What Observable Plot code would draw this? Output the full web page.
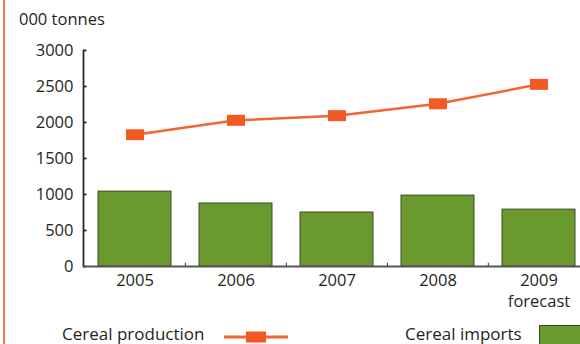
<!DOCTYPE html>
<html>
<head>
<meta charset="utf-8">
<script src="https://cdn.jsdelivr.net/npm/d3@7"></script>
<script src="https://cdn.jsdelivr.net/npm/@observablehq/plot@0.6"></script>
<style>
  html, body { margin: 0; padding: 0; background: #fff; }
  body { width: 580px; height: 344px; overflow: hidden; position: relative; font-family: "Open Sans", sans-serif; color: #231f20; }
  #border { position: absolute; left: 3px; top: 0; width: 2px; height: 344px; background: #f47b50; }
  #unit { position: absolute; left: 19px; top: 9px; font-size: 16.5px; line-height: 20px; }
  #chart { position: absolute; left: 0; top: 0; }
  #legend { position: absolute; left: 0; top: 310px; width: 580px; height: 34px; font-size: 17px; }
  .lg { position: absolute; top: 14px; line-height: 20px; white-space: nowrap; }
</style>
</head>
<body>
<div id="chart"></div>
<div id="border"></div>
<div id="unit">000 tonnes</div>
<div id="legend">
  <span class="lg" style="left:62px">Cereal production</span>
  <svg style="position:absolute;left:224px;top:21px" width="66" height="12">
    <line x1="0" y1="6" x2="64" y2="6" stroke="#f26430" stroke-width="3"></line>
    <rect x="22" y="0.5" width="20" height="11" fill="#f15a24"></rect>
  </svg>
  <span class="lg" style="left:405px">Cereal imports</span>
  <svg style="position:absolute;left:539px;top:15px" width="41" height="20">
    <rect x="0.5" y="0.5" width="42" height="22" fill="#6a9a2f" stroke="#3d4a2a" stroke-width="1"></rect>
  </svg>
</div>
<script>
const years = ["2005", "2006", "2007", "2008", "2009"];
const yearNotes = [{year: "2009", note: "forecast"}];
const production = [1830, 2030, 2095, 2260, 2530];
const imports = [1040, 875, 750, 985, 790];
const yTicks = [0, 500, 1000, 1500, 2000, 2500, 3000];

const data = years.map((y, i) => ({year: y, production: production[i], imports: imports[i]}));

const W = 580, H = 310, mL = 83, mT = 50, mB = H - 266;
const xRange = [mL, 589.5];
const frameW = xRange[1] - xRange[0];
const step = frameW / years.length;

const rectSymbol = { draw(ctx) { ctx.rect(-9, -5.5, 18, 11); } };

const plot = Plot.plot({
  width: W,
  height: H,
  marginLeft: mL,
  marginRight: 0,
  marginTop: mT,
  marginBottom: mB,
  style: { fontFamily: "Open Sans, sans-serif", fontSize: "16.5px", color: "#231f20", background: "transparent", overflow: "visible" },
  x: { domain: years, range: xRange, paddingInner: 0.28, paddingOuter: 0.14, label: null },
  y: { domain: [0, 3000], label: null },
  marks: [
    Plot.barY(data, { x: "year", y: "imports", fill: "#6a9a2f", stroke: "#3d4a2a", strokeWidth: 1 }),
    Plot.ruleY(yTicks, { y: d => d, stroke: "#2a2a2a", strokeWidth: 1.8, insetRight: frameW - 13 }),
    Plot.ruleX(years.slice(1), { x: d => d, y1: 0, y2: 45, dx: -step / 2, stroke: "#333", strokeWidth: 1 }),
    Plot.frame({ anchor: "left", stroke: "#2a2a2a", strokeWidth: 1.8 }),
    Plot.ruleY([0], { stroke: "#555", strokeWidth: 2 }),
    Plot.axisY({ ticks: yTicks, tickSize: 0, tickPadding: 10, tickFormat: d => String(d), fontSize: 16.5 }),
    Plot.axisX({ tickSize: 0, tickPadding: 8, fontSize: 16.5 }),
    Plot.text(yearNotes, { x: "year", text: "note", frameAnchor: "bottom", lineAnchor: "middle", dy: 35, fontSize: 16.5, fill: "#231f20" }),
    Plot.line(data, { x: "year", y: "production", stroke: "#f26430", strokeWidth: 2.5 }),
    Plot.dot(data, { x: "year", y: "production", symbol: rectSymbol, fill: "#f15a24", stroke: null, r: 5 })
  ]
});
document.getElementById("chart").appendChild(plot);
</script>
</body>
</html>
